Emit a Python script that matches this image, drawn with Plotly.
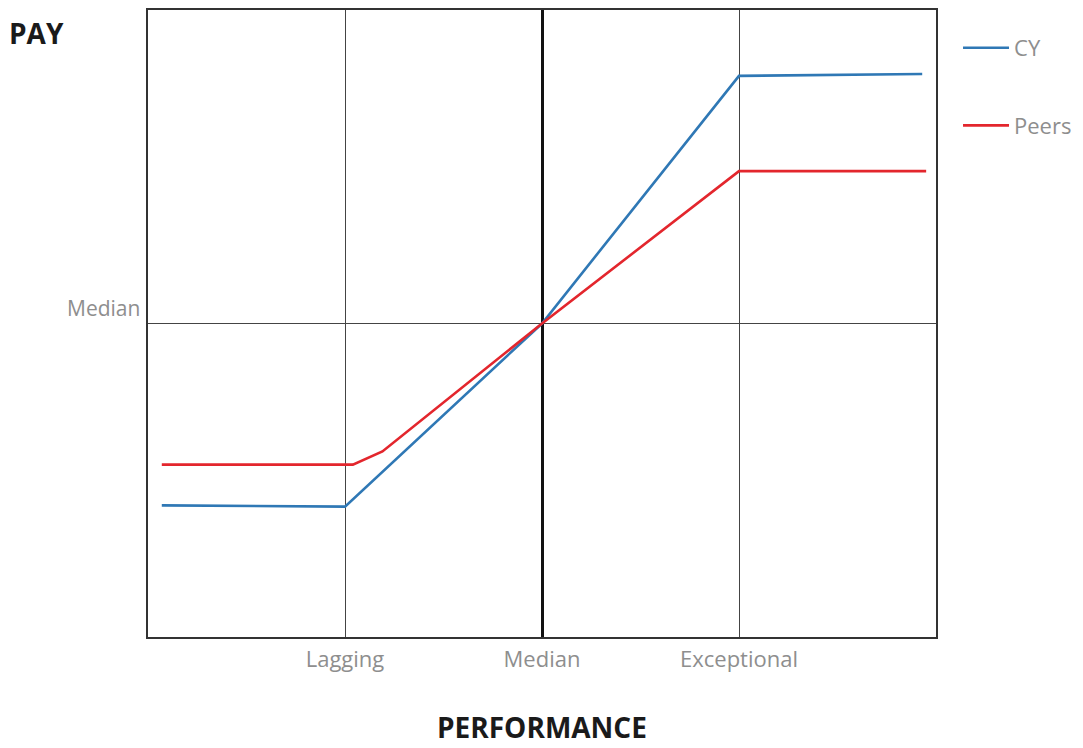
import plotly.graph_objects as go

# Performance positions: Lagging=-1, Median=0, Exceptional=1
tick_labels = ["Lagging", "Median", "Exceptional"]
tick_positions = [-1, 0, 1]

cy_x = [-1.93, -1.0, 0.0, 1.0, 1.93]
cy_y = [-29.0, -29.2, 0.0, 39.5, 39.8]

peers_x = [-1.93, -0.96, -0.81, 0.0, 1.0, 1.95]
peers_y = [-22.5, -22.5, -20.4, 0.0, 24.3, 24.3]

fig = go.Figure()
fig.add_trace(go.Scatter(x=cy_x, y=cy_y, mode="lines", name="CY",
                         line=dict(color="#2f78b5", width=2.6), legendgroup="a"))
fig.add_trace(go.Scatter(x=peers_x, y=peers_y, mode="lines", name="Peers",
                         line=dict(color="#e3262d", width=2.6), legendgroup="b"))

fig.update_layout(
    width=1083, height=748,
    margin=dict(l=148, r=147, t=8, b=111),
    paper_bgcolor="white", plot_bgcolor="white",
    font=dict(family="Open Sans, Noto Sans, sans-serif", color="#8e8e8e", size=22),
    legend=dict(xref="container", yref="container", x=0.8846, y=0.964,
                xanchor="left", yanchor="top",
                itemwidth=46, tracegroupgap=46,
                font=dict(size=22, color="#8e8e8e")),
    xaxis=dict(range=[-2, 2], tickvals=tick_positions, ticktext=tick_labels,
               showgrid=True, gridcolor="#444444", gridwidth=1.2,
               zeroline=True, zerolinecolor="#111111", zerolinewidth=2.6,
               showline=True, linecolor="#333333", linewidth=1.6, mirror=True,
               ticks="", ticklabelstandoff=2, fixedrange=True),
    yaxis=dict(range=[-50, 50], tickvals=[], showgrid=False,
               zeroline=True, zerolinecolor="#444444", zerolinewidth=1.4,
               showline=True, linecolor="#333333", linewidth=1.6, mirror=True,
               ticks="", fixedrange=True),
    annotations=[
        dict(text="Median", xref="paper", yref="y", x=0, y=0, xanchor="right",
             yanchor="middle", xshift=-6, yshift=16, showarrow=False,
             font=dict(size=21, color="#8e8e8e")),
        dict(text="<b>PAY</b>", xref="paper", yref="paper", x=-0.179, y=1.0,
             xanchor="left", yanchor="middle", yshift=-23, showarrow=False,
             font=dict(size=28, color="#1a1a1a")),
        dict(text="<b>PERFORMANCE</b>", xref="paper", yref="paper", x=0.5, y=0,
             xanchor="center", yanchor="middle", yshift=-90, showarrow=False,
             font=dict(size=28, color="#1a1a1a")),
    ],
)

fig.write_html(
    "out.html",
    config={"displayModeBar": False},
    post_script="document.body.style.margin='0';document.body.style.overflow='hidden';",
)
